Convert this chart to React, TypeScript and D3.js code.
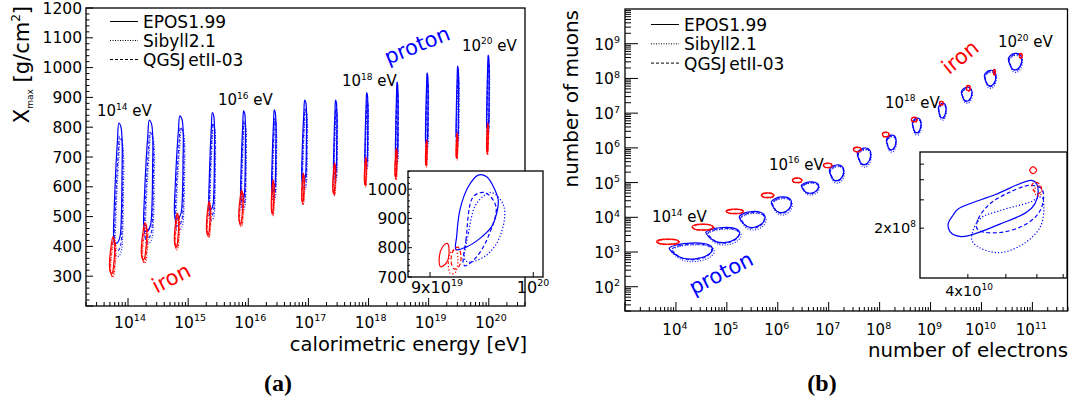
import React from "react";
import * as d3 from "d3";

const FONT = "DejaVu Sans, Verdana, sans-serif";
const SERIF = "Liberation Serif, Times New Roman, serif";
const BLUE = "#0000ff";
const RED = "#ff0000";

// ---------- data ----------
const modelNames = ["EPOS1.99", "Sibyll2.1", "QGSJetII-03"];
const primaryLogE = [14, 14.5, 15, 15.5, 16, 16.5, 17, 17.5, 18, 18.5, 19, 19.5, 20];

// panel (a): extents of the contours, log10(calorimetric energy / eV) and Xmax [g/cm2]
const protonCalLogE = [[13.76, 13.927], [14.26, 14.438], [14.772, 14.943], [15.343, 15.455], [15.872, 15.967], [16.388, 16.472], [16.888, 16.983], [17.417, 17.483], [17.938, 17.997], [18.447, 18.497], [18.947, 18.997], [19.455, 19.505], [19.963, 20.013]];
const protonXmax = [[368, 814], [411, 824], [455, 838], [489, 849], [522, 855], [556, 858], [589, 891], [617, 891], [656, 916], [673, 952], [724, 982], [740, 1005], [774, 1042]];
const ironCalLogE = [[13.693, 13.8], [14.222, 14.333], [14.772, 14.86], [15.305, 15.383], [15.843, 15.927], [16.383, 16.438], [16.888, 16.938], [17.405, 17.46], [17.93, 17.972], [18.438, 18.48], [18.947, 18.98], [19.455, 19.488], [19.963, 19.997]];
const ironXmax = [[297, 432], [344, 479], [388, 512], [429, 550], [466, 589], [502, 623], [539, 646], [569, 680], [599, 700], [623, 730], [666, 757], [690, 781], [707, 814]];

// panel (b): extents, log10(Ne) and log10(Nmu)
const protonLogNe = [[3.868, 4.752], [4.589, 5.277], [5.244, 5.768], [5.872, 6.285], [6.462, 6.816], [7.012, 7.307], [7.562, 7.837], [8.132, 8.329], [8.643, 8.82], [9.153, 9.31], [9.605, 9.821], [10.057, 10.293], [10.528, 10.803]];
const protonLogNmu = [[2.73, 3.258], [3.209, 3.706], [3.64, 4.165], [4.07, 4.587], [4.645, 5.018], [4.989, 5.506], [5.449, 5.994], [5.879, 6.367], [6.367, 6.855], [6.798, 7.286], [7.286, 7.745], [7.717, 8.233], [8.176, 8.721]];
const ironLogNe = [[3.619, 4.079], [4.314, 4.752], [4.982, 5.342], [5.676, 5.931], [6.285, 6.481], [6.894, 7.071], [7.483, 7.64], [8.053, 8.19], [8.623, 8.741], [9.173, 9.251], [9.703, 9.782], [10.234, 10.273], [10.745, 10.803]];
const ironLogNmu = [[3.209, 3.373], [3.62, 3.803], [4.099, 4.234], [4.558, 4.702], [4.99, 5.133], [5.42, 5.563], [5.879, 6.023], [6.31, 6.453], [6.74, 6.884], [7.229, 7.343], [7.631, 7.803], [8.09, 8.262], [8.578, 8.721]];

// contour outlines (normalised, u: left->right, v: bottom->top)
const protonShapeA = [[0.12, 0.0], [0.0, 0.06], [0.08, 0.3], [0.25, 0.6], [0.45, 0.85], [0.62, 1.0], [0.85, 0.97], [1.0, 0.85], [0.98, 0.55], [0.92, 0.25], [0.75, 0.05], [0.45, 0.0]];
const ironShapeA = [[0.35, 0.0], [0.05, 0.1], [0.0, 0.35], [0.3, 0.75], [0.65, 1.0], [0.95, 0.9], [1.0, 0.6], [0.8, 0.25], [0.6, 0.05]];
const protonShapeB = [[0.0, 0.68], [0.2, 0.9], [0.5, 1.0], [0.8, 0.97], [0.97, 0.8], [1.0, 0.55], [0.88, 0.22], [0.6, 0.0], [0.3, 0.05], [0.1, 0.35]];
const ironShapeB = [[0, 0.5], [0.15, 0.9], [0.5, 1], [0.85, 0.9], [1, 0.5], [0.85, 0.1], [0.5, 0], [0.15, 0.1]];

// inset (a): E [1e19 eV], Xmax
const insetAProtonSolid = [[9.242, 794], [9.248, 838], [9.279, 929], [9.358, 1008], [9.454, 1048], [9.536, 1042], [9.617, 997], [9.649, 963], [9.633, 917], [9.584, 872], [9.471, 832], [9.343, 803]];
const insetAProtonDashed = [[9.311, 747], [9.336, 826], [9.406, 974], [9.519, 988], [9.627, 940], [9.551, 838], [9.439, 769], [9.327, 738]];
const insetAProtonDotted = [[9.327, 758], [9.36, 850], [9.439, 952], [9.584, 988], [9.706, 940], [9.666, 838], [9.536, 775], [9.374, 751]];
const insetAIronSolid = [[9.1, 735], [9.085, 765], [9.12, 805], [9.16, 815], [9.177, 790], [9.155, 750]];
const insetAIronDashed = [[9.22, 728], [9.195, 760], [9.225, 795], [9.26, 802], [9.29, 770], [9.265, 733]];
const insetAIronDotted = [[9.19, 712], [9.17, 750], [9.2, 787], [9.24, 792], [9.26, 755], [9.235, 715]];

// inset (b): Ne, Nmu
const insetBProtonSolid = [[3.778e10, 2.634e8], [4.688e10, 3.225e8], [5.815e10, 3.968e8], [5.989e10, 3.782e8], [6.044e10, 3.354e8], [5.929e10, 2.831e8], [5.645e10, 2.51e8], [4.827e10, 2.12e8], [4.046e10, 1.807e8], [3.853e10, 1.773e8], [3.634e10, 1.86e8], [3.562e10, 2.12e8], [3.67e10, 2.415e8]];
const insetBProtonDashed = [[4.21e10, 2.02e8], [4.25e10, 2.28e8], [4.55e10, 2.83e8], [5.12e10, 3.35e8], [5.76e10, 3.69e8], [6.17e10, 3.52e8], [6.23e10, 2.97e8], [6.04e10, 2.45e8], [5.53e10, 2.07e8], [4.83e10, 1.88e8], [4.29e10, 1.92e8]];
const insetBProtonDotted = [[4.09e10, 1.705e8], [4.29e10, 2.28e8], [4.83e10, 2.57e8], [5.76e10, 2.9e8], [6.17e10, 3.12e8], [6.25e10, 2.63e8], [6.11e10, 2.02e8], [5.53e10, 1.59e8], [4.83e10, 1.41e8], [4.29e10, 1.51e8]];
const insetBIronSolid = [[5.75e10, 4.58e8], [5.87e10, 4.83e8], [5.99e10, 4.58e8], [5.87e10, 4.36e8]];
const insetBIronDashed = [[5.83e10, 3.73e8], [5.96e10, 3.87e8], [6.11e10, 3.73e8], [6.16e10, 3.42e8], [6.03e10, 3.27e8], [5.89e10, 3.42e8]];
const insetBIronDotted = [[5.93e10, 3.52e8], [6.07e10, 3.67e8], [6.18e10, 3.47e8], [6.11e10, 3.18e8], [5.96e10, 3.23e8]];

// ticks
const yTickLabelsA = [300, 400, 500, 600, 700, 800, 900, 1000, 1100, 1200];
const xTickExpA = [14, 15, 16, 17, 18, 19, 20];
const xTickExpB = [4, 5, 6, 7, 8, 9, 10, 11];
const yTickExpB = [2, 3, 4, 5, 6, 7, 8, 9];
const insetAYLabels = [700, 800, 900, 1000];

// ---------- layout ----------
const xA = d3.scaleLog().domain([2e13, 4e20]).range([86, 525]);
const yA = d3.scaleLinear().domain([200, 1200]).range([306, 8]);
const xB = d3.scaleLog().domain([1e3, 5e11]).range([625, 1068]);
const yB = d3.scaleLog().domain([20, 1e10]).range([311, 9]);
const xIA = d3.scaleLog().domain([8.8e19, 1.01e20]).range([408, 543]);
const yIA = d3.scaleLinear().domain([700, 1062]).range([277, 171]);
const xIB = d3.scaleLog().domain([3.02e10, 7.16e10]).range([920, 1067]);
const yIB = d3.scaleLog().domain([0.98e8, 5.95e8]).range([278, 152]);

const closed = d3.line<number[]>().curve(d3.curveCatmullRomClosed.alpha(0.5));

const dashes = ["none", "1 1.6", "3.5 2"]; // EPOS solid, Sibyll dotted, QGSJet dashed
const boxProtonA = [[0, 0.85, 0.1, 1], [0.15, 1, 0, 0.88], [0.08, 0.92, 0.04, 0.9]];
const boxIronA = [[0, 0.8, 0.08, 1], [0.2, 1, 0, 0.92], [0.12, 0.9, 0.02, 0.95]];
const boxProtonB = [[0, 0.96, 0.14, 1], [0.04, 1, 0, 0.9], [0.06, 0.94, 0.1, 0.94]];
const boxIronB = [[0, 0.95, 0.1, 1], [0.05, 1, 0, 0.9], [0.03, 0.97, 0.05, 0.95]];

function loopPts(tpl: number[][], xr: number[], yr: number[], box: number[], toX: (v: number) => number, toY: (v: number) => number) {
  return tpl.map(([u, v]) => {
    const fu = box[0] + u * (box[1] - box[0]);
    const fv = box[2] + v * (box[3] - box[2]);
    return [toX(xr[0] + fu * (xr[1] - xr[0])), toY(yr[0] + fv * (yr[1] - yr[0]))];
  });
}

function Loops({ xr, yr, tpl, boxes, color, toX, toY }: any) {
  const out: any[] = [];
  xr.forEach((r: number[], i: number) => {
    [1, 2, 0].forEach((m) => {
      out.push(
        <path key={i + "-" + m} d={closed(loopPts(tpl, r, yr[i], boxes[m], toX, toY)) || ""} fill="none" stroke={color} strokeWidth={1.2} strokeDasharray={dashes[m]} opacity={m === 0 ? 1 : 0.85} />
      );
    });
  });
  return <g>{out}</g>;
}

function InsetLoop({ pts, sx, sy, color, m, scaleX = 1 }: any) {
  const p = pts.map((d: number[]) => [sx(d[0] * scaleX), sy(d[1])]);
  return <path d={closed(p) || ""} fill="none" stroke={color} strokeWidth={1.2} strokeDasharray={m === 0 ? "none" : m === 1 ? "1.2 2" : "4 2.5"} />;
}

function Pow({ x, y, exp, pre = "10", size, sup, anchor = "middle", fill = "#000", suffix }: any) {
  return (
    <text x={x} y={y} textAnchor={anchor} fontSize={size} fontFamily={FONT} fill={fill}>
      <tspan>{pre}</tspan>
      <tspan fontSize={sup} dy={-size * 0.42}>{exp}</tspan>
      {suffix ? <tspan dy={size * 0.42}>{suffix}</tspan> : null}
    </text>
  );
}

function Legend({ x, y0, step }: { x: number; y0: number; step: number }) {
  return (
    <g>
      {modelNames.map((name, i) => (
        <g key={name}>
          <line x1={x} x2={x + 28} y1={y0 + i * step - 6.5} y2={y0 + i * step - 6.5} stroke="#000" strokeWidth={1} strokeDasharray={i === 0 ? "none" : i === 1 ? "1 1.5" : "3 2"} />
          <text x={x + 33} y={y0 + i * step} fontSize={17} fontFamily={FONT}>
            {i === 2 ? (<><tspan>QGSJ</tspan><tspan dx={3}>etII-03</tspan></>) : name}
          </text>
        </g>
      ))}
    </g>
  );
}

export default function App() {
  const ticksA: any[] = [];
  for (let d = 13; d <= 20; d++) for (let k = 1; k <= 9; k++) {
    const v = k * Math.pow(10, d);
    if (v < 2e13 || v > 4e20) continue;
    const x = xA(v), len = k === 1 ? 8 : 4;
    ticksA.push(<line key={"xa" + d + k} x1={x} x2={x} y1={306} y2={306 - len} stroke="#000" />);
  }
  for (let v = 200; v <= 1200; v += 20) {
    const y = yA(v), len = v % 100 === 0 ? 7 : 3.5;
    ticksA.push(<line key={"ya" + v} x1={86} x2={86 + len} y1={y} y2={y} stroke="#000" />);
  }
  const ticksB: any[] = [];
  for (let d = 3; d <= 11; d++) for (let k = 1; k <= 9; k++) {
    const v = k * Math.pow(10, d);
    if (v < 1e3 || v > 5e11) continue;
    const x = xB(v), len = k === 1 ? 9 : 4;
    ticksB.push(<line key={"xb" + d + k} x1={x} x2={x} y1={311} y2={311 - len} stroke="#000" />);
  }
  for (let d = 1; d <= 9; d++) for (let k = 1; k <= 9; k++) {
    const v = k * Math.pow(10, d);
    if (v < 20 || v > 1e10) continue;
    const y = yB(v), len = k === 1 ? 13 : 6;
    ticksB.push(<line key={"yb" + d + k} x1={625} x2={625 + len} y1={y} y2={y} stroke="#000" />);
  }
  const insetATicks: any[] = [];
  for (let v = 700; v <= 1060; v += 20) {
    const y = yIA(v);
    insetATicks.push(<line key={"ia" + v} x1={408} x2={408 + (v % 100 === 0 ? 4 : 2)} y1={y} y2={y} stroke="#000" />);
  }
  [9e19, 1e20].forEach((v) => insetATicks.push(<line key={"iax" + v} x1={xIA(v)} x2={xIA(v)} y1={277} y2={272} stroke="#000" />));
  const insetBTicks: any[] = [];
  [2e8, 3e8, 4e8, 5e8].forEach((v) => insetBTicks.push(<line key={"iby" + v} x1={920} x2={924} y1={yIB(v)} y2={yIB(v)} stroke="#000" />));
  [4e10, 5e10, 6e10, 7e10].forEach((v) => insetBTicks.push(<line key={"ibx" + v} x1={xIB(v)} x2={xIB(v)} y1={278} y2={274} stroke="#000" />));

  const toXA = (l: number) => xA(Math.pow(10, l));
  const toYA = (v: number) => yA(v);
  const toXB = (l: number) => xB(Math.pow(10, l));
  const toYB = (l: number) => yB(Math.pow(10, l));

  return (
    <svg width={1078} height={403} style={{ position: "absolute", left: 0, top: 0, background: "#fff" }} fontFamily={FONT}>
      <rect x={0} y={0} width={1078} height={403} fill="#fff" />
      {/* ---------------- panel (a) ---------------- */}
      <Loops xr={protonCalLogE} yr={protonXmax} tpl={protonShapeA} boxes={boxProtonA} color={BLUE} toX={toXA} toY={toYA} />
      <Loops xr={ironCalLogE} yr={ironXmax} tpl={ironShapeA} boxes={boxIronA} color={RED} toX={toXA} toY={toYA} />
      <rect x={86} y={8} width={439} height={298} fill="none" stroke="#000" strokeWidth={1.3} />
      {ticksA}
      {yTickLabelsA.map((v) => (
        <text key={v} x={82} y={yA(v) + 5.5} textAnchor="end" fontSize={15.5}>{v}</text>
      ))}
      {xTickExpA.map((e) => (
        <Pow key={e} x={xA(Math.pow(10, e)) + 2} y={328} exp={e} size={15.5} sup={9.5} />
      ))}
      <text x={527} y={351} textAnchor="end" fontSize={19.5}>calorimetric energy [eV]</text>
      <text transform="translate(29,6) rotate(-90)" textAnchor="end" fontSize={21}>
        <tspan>X</tspan><tspan fontSize={9} dy={4}>max</tspan><tspan dy={-4}> [g/cm</tspan><tspan fontSize={12} dy={-9}>2</tspan><tspan dy={9}>]</tspan>
      </text>
      <Legend x={110} y0={28} step={19} />
      <Pow x={97} y={116} exp={primaryLogE[0]} size={15} sup={9} anchor="start" suffix=" eV" />
      <Pow x={218} y={105} exp={primaryLogE[4]} size={15} sup={9} anchor="start" suffix=" eV" />
      <Pow x={342} y={86} exp={primaryLogE[8]} size={15} sup={9} anchor="start" suffix=" eV" />
      <Pow x={462} y={50.5} exp={primaryLogE[12]} size={15} sup={9} anchor="start" suffix=" eV" />
      <text transform="translate(417,45) rotate(-22)" textAnchor="middle" dy="0.35em" fontSize={21} fill={BLUE}>proton</text>
      <text transform="translate(171,278) rotate(-27)" textAnchor="middle" dy="0.35em" fontSize={21} fill={RED}>iron</text>
      {/* inset (a) */}
      <rect x={408} y={171} width={135} height={106} fill="#fff" stroke="#000" strokeWidth={1.3} />
      <InsetLoop pts={insetAProtonDotted} sx={xIA} sy={yIA} color={BLUE} m={1} scaleX={1e19} />
      <InsetLoop pts={insetAProtonDashed} sx={xIA} sy={yIA} color={BLUE} m={2} scaleX={1e19} />
      <InsetLoop pts={insetAProtonSolid} sx={xIA} sy={yIA} color={BLUE} m={0} scaleX={1e19} />
      <InsetLoop pts={insetAIronDotted} sx={xIA} sy={yIA} color={RED} m={1} scaleX={1e19} />
      <InsetLoop pts={insetAIronDashed} sx={xIA} sy={yIA} color={RED} m={2} scaleX={1e19} />
      <InsetLoop pts={insetAIronSolid} sx={xIA} sy={yIA} color={RED} m={0} scaleX={1e19} />
      {insetATicks}
      {insetAYLabels.map((v) => (
        <text key={v} x={407} y={yIA(v) + 5.5} textAnchor="end" fontSize={15.5}>{v}</text>
      ))}
      <Pow x={437} y={292.5} pre="9x10" exp={19} size={16} sup={9.5} />
      <Pow x={533} y={292.5} exp={20} size={16} sup={9.5} />
      <text x={278} y={391} textAnchor="middle" fontSize={24} fontFamily={SERIF} fontWeight="bold">(a)</text>

      {/* ---------------- panel (b) ---------------- */}
      <Loops xr={protonLogNe} yr={protonLogNmu} tpl={protonShapeB} boxes={boxProtonB} color={BLUE} toX={toXB} toY={toYB} />
      <Loops xr={ironLogNe} yr={ironLogNmu} tpl={ironShapeB} boxes={boxIronB} color={RED} toX={toXB} toY={toYB} />
      <rect x={625} y={9} width={442.5} height={302} fill="none" stroke="#000" strokeWidth={1.3} />
      {ticksB}
      {yTickExpB.map((e) => (
        <Pow key={e} x={620} y={yB(Math.pow(10, e)) + 6} exp={e} size={15.5} sup={9.5} anchor="end" />
      ))}
      {xTickExpB.map((e) => (
        <Pow key={e} x={xB(Math.pow(10, e)) - 1} y={335} exp={e} size={15} sup={9.5} />
      ))}
      <text x={1068} y={357} textAnchor="end" fontSize={19.8}>number of electrons</text>
      <text transform="translate(578,10) rotate(-90)" textAnchor="end" fontSize={20}>number of muons</text>
      <Legend x={651} y0={31} step={19.3} />
      <Pow x={652} y={222} exp={primaryLogE[0]} size={15} sup={9} anchor="start" suffix=" eV" />
      <Pow x={769} y={169.5} exp={primaryLogE[4]} size={15} sup={9} anchor="start" suffix=" eV" />
      <Pow x={885} y={107.5} exp={primaryLogE[8]} size={15} sup={9} anchor="start" suffix=" eV" />
      <Pow x={998} y={47} exp={primaryLogE[12]} size={15} sup={9} anchor="start" suffix=" eV" />
      <text transform="translate(721,273) rotate(-27)" textAnchor="middle" dy="0.35em" fontSize={21} fill={BLUE}>proton</text>
      <text transform="translate(960,57) rotate(-39)" textAnchor="middle" dy="0.35em" fontSize={21} fill={RED}>iron</text>
      {/* inset (b) */}
      <rect x={920} y={152} width={147} height={126} fill="#fff" stroke="#000" strokeWidth={1.3} />
      <InsetLoop pts={insetBProtonDotted} sx={xIB} sy={yIB} color={BLUE} m={1} />
      <InsetLoop pts={insetBProtonDashed} sx={xIB} sy={yIB} color={BLUE} m={2} />
      <InsetLoop pts={insetBProtonSolid} sx={xIB} sy={yIB} color={BLUE} m={0} />
      <InsetLoop pts={insetBIronDotted} sx={xIB} sy={yIB} color={RED} m={1} />
      <InsetLoop pts={insetBIronDashed} sx={xIB} sy={yIB} color={RED} m={2} />
      <InsetLoop pts={insetBIronSolid} sx={xIB} sy={yIB} color={RED} m={0} />
      {insetBTicks}
      <Pow x={916} y={yIB(2e8) + 5} pre="2x10" exp={8} size={14.5} sup={9} anchor="end" />
      <Pow x={969} y={296} pre="4x10" exp={10} size={14.5} sup={9} />
      <text x={822} y={391} textAnchor="middle" fontSize={24} fontFamily={SERIF} fontWeight="bold">(b)</text>
    </svg>
  );
}
